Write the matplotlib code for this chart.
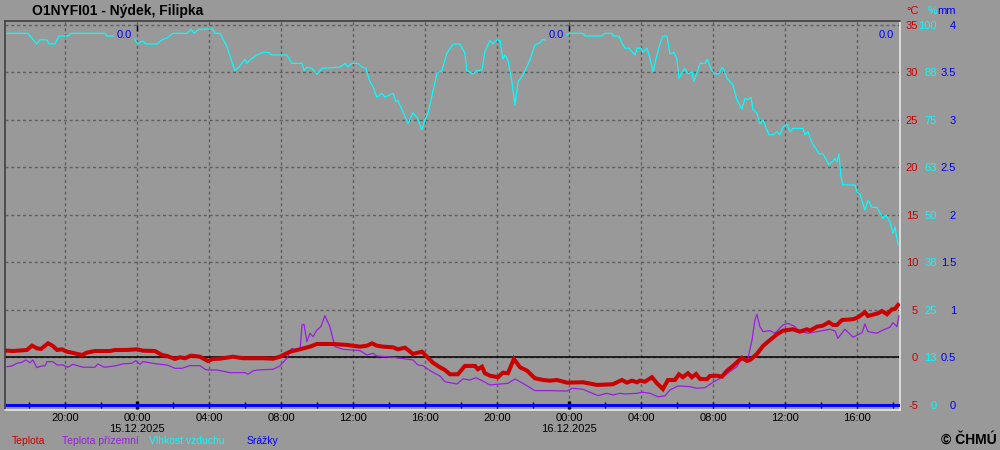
import matplotlib
matplotlib.use('Agg')
import matplotlib.pyplot as plt
import pandas as pd

plt.rcParams['font.family'] = ['Liberation Sans', 'DejaVu Sans']
plt.rcParams['lines.scale_dashes'] = False

# ---------------- data (x = hours since 15.12.2025 00:00) ----------------
BASE = pd.Timestamp('2025-12-15 00:00')

temp_h = [-7.22, -6.89, -6.11, -5.83, -5.56, -5.33, -4.94, -4.67, -4.44, -4.17, -3.89, -3.61,
          -3.06, -2.78, -2.33, -1.5, -1.22, -0.56, 0.0, 0.33, 1.0, 1.39, 1.67, 2.11, 2.39, 2.67,
          3.0, 3.5, 3.94, 4.22, 4.61, 5.33, 5.89, 7.0, 7.56, 7.94, 8.5, 9.06, 9.61, 10.0, 10.89,
          11.67, 12.39, 12.78, 13.06, 13.33, 13.67, 14.22, 14.5, 14.89, 15.06, 15.33, 15.83,
          16.11, 16.44, 16.83, 17.11, 17.39, 17.83, 18.22, 18.78, 18.94, 19.17, 19.33, 19.61,
          20.06, 20.33, 20.61, 20.94, 21.28, 21.67, 22.11, 22.56, 22.94, 23.33, 23.89, 24.78,
          25.56, 26.44, 26.94, 27.22, 27.5, 27.78, 27.94, 28.22, 28.61, 28.89, 29.22, 29.5,
          29.89, 30.11, 30.33, 30.61, 30.83, 31.06, 31.28, 31.67, 31.83, 32.22, 32.5, 32.78,
          33.11, 33.61, 33.89, 34.06, 34.44, 34.78, 35.17, 35.56, 35.89, 36.44, 36.83, 37.22,
          37.39, 37.78, 38.11, 38.44, 38.67, 38.89, 39.17, 39.78, 40.06, 40.44, 40.61, 41.17,
          41.39, 41.67, 41.94, 42.11, 42.28]
temp_c = [0.72, 0.68, 0.79, 1.24, 0.97, 0.89, 1.49, 1.21, 0.79, 0.86, 0.61, 0.51,
          0.26, 0.51, 0.68, 0.68, 0.79, 0.79, 0.86, 0.72, 0.68, 0.26, 0.16, -0.16, 0.02, -0.08,
          0.19, 0.08, -0.37, -0.16, -0.13, 0.08, -0.08, -0.08, -0.13, 0.08, 0.61, 0.86, 1.14, 1.42, 1.42,
          1.32, 1.14, 1.24, 1.49, 1.24, 1.14, 1.07, 0.86, 1.03, 0.79, 0.37, 0.61,
          0.08, -0.55, -1.03, -1.32, -1.77, -1.77, -0.89, -0.89, -1.24, -0.97, -1.66, -1.92,
          -2.08, -1.6, -1.66, -0.16, -1.03, -1.39, -2.19, -2.37, -2.44, -2.37, -2.65, -2.61,
          -2.89, -2.82, -2.37, -2.65, -2.44, -2.61, -2.44, -2.55, -2.08, -2.72, -3.32, -2.37,
          -2.37, -1.77, -2.08, -1.66, -2.08, -1.74, -2.26, -2.29, -1.95, -1.92, -2.02, -1.39,
          -0.89, -0.02, -0.37, -0.26, 0.37, 1.21, 1.84, 2.44, 2.82, 2.97, 2.72, 2.97,
          2.82, 3.24, 3.35, 3.71, 3.42, 3.42, 3.95, 4.02, 4.23, 4.76, 4.37, 4.65,
          4.89, 4.55, 5.07, 5.11, 5.53]

ground_h = [-7.22, -6.94, -6.67, -6.39, -6.17, -5.94, -5.78, -5.56, -5.28, -5.11, -5.0, -4.67,
            -4.44, -4.11, -3.83, -3.56, -3.0, -2.33, -2.17, -1.83, -1.22, -0.78, -0.28, -0.06,
            0.17, 0.33, 1.11, 1.67, 2.11, 2.5, 2.94, 3.5, 3.78, 3.94, 4.44, 5.17, 6.0, 6.17, 6.44,
            6.67, 7.56, 7.94, 8.33, 8.61, 8.78, 9.06, 9.17, 9.28, 9.44, 9.61, 9.78, 10.0, 10.22,
            10.44, 10.72, 11.0, 11.44, 12.39, 12.78, 13.11, 13.33, 14.22, 15.33, 15.61, 15.89,
            16.28, 16.83, 17.11, 17.39, 17.78, 18.11, 18.5, 18.83, 19.17, 19.61, 20.17, 20.61,
            21.0, 21.44, 22.11, 22.94, 23.89, 24.17, 24.78, 25.61, 26.11, 26.44, 26.83, 27.11,
            27.78, 28.11, 28.5, 28.94, 29.33, 29.61, 30.06, 30.72, 31.11, 31.56, 32.0, 32.56,
            32.94, 33.33, 33.5, 33.94, 34.17, 34.33, 34.44, 34.61, 34.78, 35.17, 35.44, 35.89,
            36.17, 36.56, 36.72, 37.28, 37.78, 38.5, 38.78, 38.94, 39.33, 39.78, 40.28, 40.44,
            40.61, 41.11, 41.44, 41.83, 42.0, 42.22, 42.33]
ground_c = [-0.97, -0.89, -0.61, -0.51, -0.26, -0.55, -0.26, -1.07, -0.89, -0.89, -0.44, -0.44,
            -0.79, -0.79, -1.03, -0.72, -1.03, -1.03, -0.68, -1.03, -0.89, -0.68, -0.61, -0.34,
            -0.72, -0.44, -0.68, -0.79, -1.14, -1.14, -0.86, -0.86, -1.24, -1.32, -1.32, -1.6, -1.6, -1.77, -1.42,
            -1.32, -1.24, -0.89, -0.08, 0.97, 0.79, 0.79, 3.42, 3.49, 1.66, 2.55, 2.19, 2.89, 3.24,
            4.4, 3.24, 1.14, 0.86, 0.72, 0.26, 0.44, 0.16, 0.02, -0.26, -0.79, -0.86,
            -1.39, -1.95, -2.55, -2.65, -2.79, -2.26, -2.37, -2.13, -2.44, -2.89, -2.79, -2.72,
            -2.26, -2.72, -3.49, -3.49, -3.53, -3.24, -3.35, -4.02, -3.77, -3.95, -3.77, -3.84,
            -3.77, -3.66, -3.77, -4.13, -4.05, -3.42, -3.0, -3.07, -3.24, -3.18, -2.61, -2.02,
            -1.49, -0.97, -0.37, -0.08, 1.84, 3.95, 4.55, 3.24, 2.72, 2.82, 2.55, 3.42,
            3.6, 3.24, 2.82, 2.55, 2.72, 2.97, 2.79, 2.02, 2.97, 2.13, 2.61, 3.53,
            2.72, 2.55, 2.89, 3.18, 3.66, 3.24, 4.37]

hum_h = [-7.22, -6.06, -5.56, -5.39, -5.0, -4.89, -4.56, -4.33, -3.83, -3.67, -1.78, -1.67, -1.5,
         -0.28, 0.06, 0.28, 0.5, 1.11, 1.39, 1.67, 2.0, 2.78, 3.0, 3.17, 3.44, 4.22, 4.33, 4.61,
         5.0, 5.44, 5.72, 6.0, 6.11, 6.33, 6.67, 7.0, 7.28, 7.5, 8.33, 8.61, 9.17, 9.28, 9.44,
         9.72, 10.0, 10.28, 11.28, 11.56, 11.72, 11.94, 12.28, 12.5, 12.72, 12.94, 13.11, 13.33,
         13.61, 13.78, 14.22, 14.39, 14.5, 14.61, 14.78, 15.06, 15.33, 15.56, 15.83, 16.0, 16.17,
         16.44, 16.67, 16.94, 17.22, 17.56, 17.94, 18.22, 18.33, 18.67, 18.89, 19.17, 19.33,
         19.61, 19.78, 20.0, 20.17, 20.33, 20.44, 20.61, 20.83, 21.0, 21.17, 21.44, 21.83,
         22.11, 22.39, 22.5, 22.78, 23.67, 24.06, 24.78, 24.89, 25.83, 26.0, 26.39, 26.44,
         26.78, 26.94, 27.11, 27.33, 27.67, 27.78, 28.0, 28.11, 28.33, 28.5, 28.67, 28.83,
         29.06, 29.22, 29.44, 29.61, 29.83, 30.0, 30.11, 30.44, 30.61, 30.83, 30.94, 31.28,
         31.56, 31.67, 31.94, 32.11, 32.33, 32.5, 32.61, 32.78, 33.11, 33.33, 33.61, 33.78,
         33.94, 34.11, 34.22, 34.44, 34.61, 34.78, 35.11, 35.33, 35.56, 35.72, 35.89, 36.11,
         36.28, 36.44, 37.0, 37.11, 37.28, 37.5, 37.67, 37.89, 38.11, 38.44, 38.61, 38.78,
         38.89, 39.0, 39.11, 39.22, 39.89, 40.0, 40.17, 40.44, 40.61, 40.83, 41.11, 41.44,
         41.61, 41.83, 42.0, 42.11, 42.28]
hum_pct = [97.8, 97.8, 95.0, 96.1, 96.1, 95.0, 95.0, 97.1, 97.1, 97.8, 97.8, 97.1, 97.1,
           97.1, 95.0, 95.8, 95.0, 95.0, 96.1, 96.6, 97.8, 97.8, 98.9, 97.8, 98.9, 98.9, 97.8, 97.8,
           94.3, 88.0, 89.2, 91.0, 89.9, 91.0, 92.1, 92.8, 92.8, 92.1, 92.1, 89.9, 89.9, 88.0, 88.9,
           88.6, 87.1, 88.6, 88.9, 89.9, 89.0, 89.9, 89.9, 88.9, 88.6, 85.1, 83.8, 81.0,
           82.0, 81.0, 82.0, 79.8, 80.1, 78.9, 77.2, 74.1, 76.9, 75.7, 72.4, 75.0, 76.8,
           82.4, 87.3, 88.0, 92.6, 95.0, 95.0, 92.6, 88.0, 87.1, 88.0, 88.2, 93.0,
           95.9, 95.0, 96.1, 95.9, 91.0, 92.1, 90.8, 85.1, 78.9, 85.1, 86.8, 90.8,
           94.7, 95.3, 96.1, 96.1, 97.1, 97.8, 97.8, 97.1, 97.1, 97.8, 97.8, 97.1,
           97.1, 95.3, 93.9, 93.9, 92.1, 93.9, 93.9, 92.8, 93.9, 91.2, 87.7, 91.0,
           95.2, 97.1, 97.1, 92.4, 92.8, 91.0, 86.0, 88.6, 87.1, 87.7, 85.1, 89.9,
           89.9, 91.0, 88.0, 87.1, 87.1, 88.9, 88.2, 86.0, 84.2, 80.3, 77.8, 80.7,
           80.3, 81.0, 77.8, 76.8, 73.9, 75.0, 71.1, 71.1, 71.9, 71.1, 73.2, 73.9,
           71.9, 72.8, 72.8, 71.1, 71.9, 69.0, 67.8, 66.1, 66.1, 63.2, 64.0, 64.9,
           64.0, 66.1, 60.1, 57.9, 57.9, 55.9, 55.5, 51.3, 53.9, 52.0, 52.0, 49.1,
           50.0, 48.2, 45.2, 46.9, 42.1]

precip_h = [-7.22, 42.28]
precip_mm = [0.0, 0.0]

daily_end_h = [0.0, 24.0, 42.3]
daily_sum_mm = [0.0, 0.0, 0.0]

temp_ticks = [-5, 0, 5, 10, 15, 20, 25, 30, 35]
hum_ticks = [0, 12.5, 25, 37.5, 50, 62.5, 75, 87.5, 100]
hum_labels = ['0', '13', '25', '38', '50', '63', '75', '88', '100']
precip_ticks = [0, 0.5, 1, 1.5, 2, 2.5, 3, 3.5, 4]
precip_labels = ['0', '0.5', '1', '1.5', '2', '2.5', '3', '3.5', '4']

title = 'O1NYFI01 - Nýdek, Filipka'
legend_items = [('Teplota', '#cc0000'), ('Teplota přízemní', '#9a1ee0'),
                ('Vlhkost vzduchu', '#00ffff'), ('Srážky', '#0000ff')]

# ---------------- style ----------------
BG = '#999999'
RED = '#cc0000'
PURPLE = '#9a1ee0'
CYAN = '#00ffff'
BLUE = '#0000ff'
GRID = '#606060'

x_lo, x_hi = -7.33, 42.39
t_lo, t_hi = -5.53, 35.42

fig = plt.figure(figsize=(10, 4.5), dpi=100, facecolor=BG)
ax = fig.add_axes([0.005, 1 - 410 / 450, 0.895, 389 / 450])
ax.set_facecolor(BG)
axh = ax.twinx()
axp = ax.twinx()

ax.set_xlim(x_lo, x_hi)
ax.set_ylim(t_lo, t_hi)
axh.set_ylim((t_lo + 5) / 0.4, (t_hi + 5) / 0.4)
axp.set_ylim((t_lo + 5) / 10, (t_hi + 5) / 10)

# grid
xt = list(range(-4, 43, 4))
ax.set_xticks(xt)
ax.set_yticks(temp_ticks)
ax.grid(True, color=GRID, linewidth=1.0, linestyle=(0, (2.2, 2.0)), zorder=0)
ax.set_axisbelow(True)
ax.axhline(0, color='black', linewidth=1.1, zorder=1)

# x labels
def xlabel(h):
    t = BASE + pd.Timedelta(hours=h)
    s = t.strftime('%H:%M')
    if t.hour == 0:
        s += '\n' + t.strftime('%d.%m.%Y')
    return s
ax.set_xticklabels([xlabel(h) for h in xt], fontsize=8, linespacing=1.1)
ax.tick_params(axis='x', length=0, pad=2.0, colors='black')

# tick marks along the precipitation baseline
marks = list(range(-6, 43, 2))
trans = ax.get_xaxis_transform()
ax.vlines([m for m in marks if m % 24 != 0], 0.005, 0.021, transform=trans,
          color='black', linewidth=1.0, zorder=6)
mid = [m for m in marks if m % 24 == 0]
ax.vlines(mid, 0.003, 0.022, transform=trans, color='black', linewidth=2.4, zorder=6)
ax.vlines(mid, 0.974, 0.99, transform=trans, color='black', linewidth=1.0, zorder=6)

# series
axp.plot(precip_h, precip_mm, color=BLUE, linewidth=2.2, zorder=3)
axh.plot(hum_h, hum_pct, color=CYAN, linewidth=0.9, zorder=3)
ax.plot(ground_h, ground_c, color=PURPLE, linewidth=0.9, zorder=3)
ax.plot(temp_h, temp_c, color=RED, linewidth=2.9, zorder=4, solid_joinstyle='miter')

# daily precipitation sums
for h, v in zip(daily_end_h, daily_sum_mm):
    axp.annotate(f'{v:.1f}', xy=(h, 0.964), xycoords=('data', 'axes fraction'),
                 xytext=(-5, 0), textcoords='offset pixels', ha='right', va='center',
                 fontsize=8, color=BLUE, zorder=10,
                 bbox=dict(boxstyle='square,pad=0.2', fc=BG, ec='none'))

# right-side scales
ax.yaxis.tick_right()
ax.set_yticklabels([str(v) for v in temp_ticks])
ax.tick_params(axis='y', length=0, pad=13, labelsize=8, labelcolor=RED)
axh.set_yticks(hum_ticks)
axh.set_yticklabels(hum_labels)
axh.tick_params(axis='y', length=0, pad=26.6, labelsize=8, labelcolor=CYAN)
axp.set_yticks(precip_ticks)
axp.set_yticklabels(precip_labels)
axp.tick_params(axis='y', length=0, pad=40.3, labelsize=8, labelcolor=BLUE)
for a in (ax, axh, axp):
    for t in a.yaxis.get_major_ticks():
        t.label2.set_horizontalalignment('right')

for a in (axh, axp):
    for s in a.spines.values():
        s.set_visible(False)
ax.spines['left'].set_color('#404040')
ax.spines['top'].set_color('#404040')
ax.spines['right'].set_color('#e8e8e8')
ax.spines['bottom'].set_color('#e8e8e8')
for s in ax.spines.values():
    s.set_linewidth(1.2)

# headers
fig.text(919 / 1000, 1 - 11 / 450, '°C', color=RED, fontsize=8, ha='right', va='center')
fig.text(937 / 1000, 1 - 11 / 450, '%', color=CYAN, fontsize=8, ha='right', va='center')
fig.text(956 / 1000, 1 - 11 / 450, 'mm', color=BLUE, fontsize=8, ha='right', va='center')

# title
fig.text(32 / 1000, 1 - 11 / 450, title, fontsize=10, fontweight='bold', ha='left', va='center')

# legend
leg_x = [12, 62, 149, 247]
for (txt, col), x in zip(legend_items, leg_x):
    fig.text(x / 1000, 1 - 441 / 450, txt, color=col, fontsize=7.5, ha='left', va='center')

fig.text(997 / 1000, 1 - 440 / 450, '© ČHMÚ', fontsize=10, fontweight='bold', ha='right', va='center')

fig.savefig('out.png', dpi=100, facecolor=BG)
